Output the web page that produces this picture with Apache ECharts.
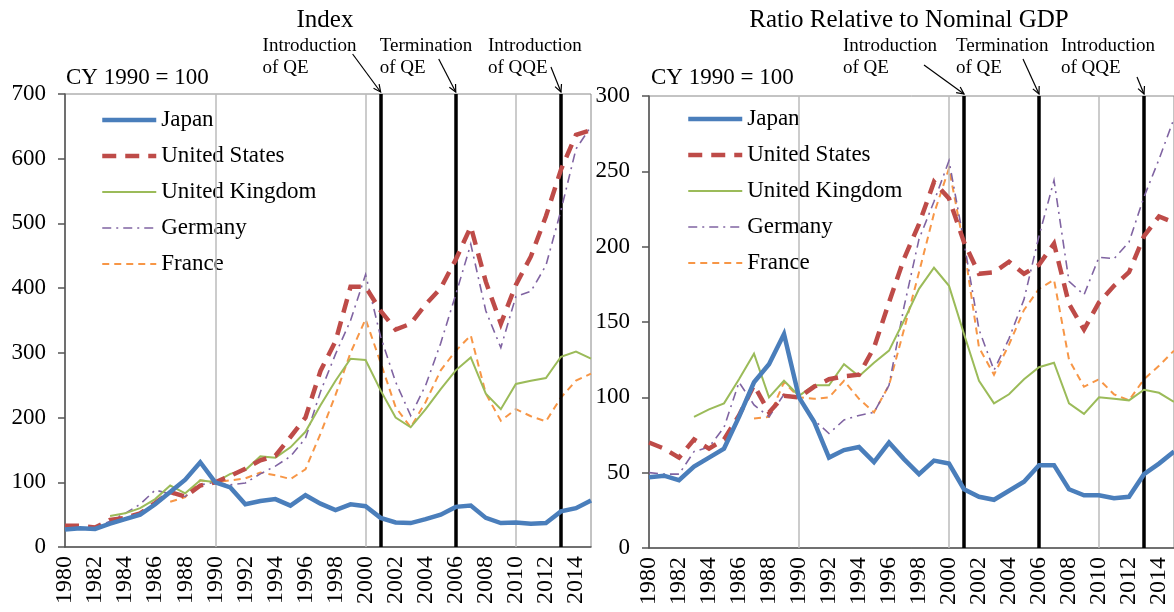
<!DOCTYPE html>
<html>
<head>
<meta charset="utf-8">
<script src="https://cdn.jsdelivr.net/npm/echarts@6/dist/echarts.min.js"></script>
<style>
html,body{margin:0;padding:0;background:#fff;}
#c{width:1174px;height:612px;}
</style>
</head>
<body>
<div id="c"></div>
<script>
// ---------- data ----------
const years = ['1980','1981','1982','1983','1984','1985','1986','1987','1988','1989',
  '1990','1991','1992','1993','1994','1995','1996','1997','1998','1999',
  '2000','2001','2002','2003','2004','2005','2006','2007','2008','2009',
  '2010','2011','2012','2013','2014','2015'];
const seriesNames = ['Japan','United States','United Kingdom','Germany','France'];

// Index (CY 1990 = 100)
const japanIdx   = [27,29,28,36,43,50,66,85,104,131,100,92,66,71,74,64,80,67,57,66,63,45,38,37,43,50,62,64,45,37,38,36,37,55,60,72];
const usIdx      = [33,33,30,42,45,52,68,85,78,95,100,110,121,134,141,170,200,272,318,402,402,365,336,345,375,400,444,495,410,345,405,449,511,583,637,644];
const ukIdx      = [null,null,null,48,52,60,74,95,83,103,100,113,119,140,138,154,178,219,257,291,289,242,200,185,213,244,273,293,237,213,252,257,261,294,302,291];
const germanyIdx = [29,28,30,40,52,66,88,82,78,96,100,96,99,113,125,140,168,240,298,350,421,325,255,203,250,315,390,468,365,308,387,395,435,520,615,650];
const franceIdx  = [null,null,null,null,null,null,null,70,77,103,100,103,106,115,111,105,120,175,235,300,352,285,216,185,224,273,303,327,237,195,213,202,194,231,257,268];

// Ratio relative to nominal GDP
const japanGdp   = [47,48,45,54,60,66,87,110,122,142,100,84,60,65,67,57,70,59,49,58,56,39,34,32,38,44,55,55,39,35,35,33,34,49,56,64];
const usGdp      = [70,66,60,72,66,72,88,108,90,101,100,107,112,114,115,133,163,192,215,243,232,203,182,183,190,182,188,202,162,145,163,174,183,207,220,216];
const ukGdp      = [null,null,null,87,92,96,112,129,100,111,101,108,108,122,114,123,131,151,172,186,174,142,111,96,102,112,120,123,96,89,100,99,98,105,103,97];
const germanyGdp = [50,49,49,64,67,80,110,95,87,102,100,85,76,85,88,90,108,160,205,230,257,203,145,118,139,165,207,244,177,168,193,192,203,233,258,285];
const franceGdp  = [null,null,null,null,null,null,null,86,87,110,100,99,100,111,99,90,108,145,183,222,252,200,133,115,135,158,172,178,125,107,112,102,98,112,121,131];

const decadeYears = ['1990','2000','2010'];
const policyYears = ['2001','2006','2013'];
const policyLabels = ['Introduction\nof QE','Termination\nof QE','Introduction\nof QQE'];
const panelTitles = ['Index','Ratio Relative to Nominal GDP'];
const baseNote = 'CY 1990 = 100';
const yTicksIdx = {min:0, max:700, interval:100};
const yTicksGdp = {min:0, max:300, interval:50};

// ---------- styles ----------
const FONT = 'Liberation Serif';
const styles = [
  {color:'#4A7EBB', width:4.5, type:'solid'},
  {color:'#BE4B48', width:4.5, type:[14,9]},
  {color:'#9BBB59', width:2, type:'solid'},
  {color:'#8064A2', width:1.6, type:[9,5,2,5]},
  {color:'#F79646', width:2, type:[7,5]}
];

const chart = echarts.init(document.getElementById('c'), null, {renderer:'canvas'});

function xAxisFor(gi){
  return {
    type:'category', gridIndex:gi, data:years, boundaryGap:false,
    axisLine:{show:true, lineStyle:{color:'#555', width:1.5}},
    axisTick:{show:false},
    axisLabel:{interval:1, rotate:90, fontFamily:FONT, fontSize:24, color:'#000', margin:9},
    splitLine:{show:false}
  };
}
function yAxisFor(gi, t){
  return {
    type:'value', gridIndex:gi, min:t.min, max:t.max, interval:t.interval,
    axisLine:{show:true, lineStyle:{color:'#555', width:1.5}},
    axisTick:{show:true, length:7, lineStyle:{color:'#555', width:1.5}},
    axisLabel:{fontFamily:FONT, fontSize:23, color:'#000', margin:19},
    splitLine:{show:false}
  };
}

const panelData = [
  [japanIdx, usIdx, ukIdx, germanyIdx, franceIdx],
  [japanGdp, usGdp, ukGdp, germanyGdp, franceGdp]
];

const series = [];
panelData.forEach((arrs, gi) => {
  series.push({
    type:'line', xAxisIndex:gi, yAxisIndex:gi, data:[], silent:true,
    markLine:{
      silent:true, symbol:['none','none'], label:{show:false}, animation:false,
      data: decadeYears.map(y => ({xAxis:y, lineStyle:{color:'#BBBBBB', width:1.5, type:'solid'}}))
        .concat(policyYears.map(y => ({xAxis:y, lineStyle:{color:'#000', width:3.5, type:'solid'}})))
    }
  });
  arrs.forEach((d, si) => {
    series.push({
      name:seriesNames[si], type:'line', xAxisIndex:gi, yAxisIndex:gi,
      data:d, symbol:'none', showSymbol:false, smooth:false, animation:false,
      lineStyle:{color:styles[si].color, width:styles[si].width, type:styles[si].type, cap:'butt', join:'miter'},
      itemStyle:{color:styles[si].color},
      z: 3 + (5 - si)
    });
  });
});

function legendFor(left, top){
  return {
    orient:'vertical', left:left, top:top, padding:0,
    itemWidth:54, itemHeight:14, itemGap:12,
    data:seriesNames.map((n, si) => ({
      name:n,
      lineStyle:{width:styles[si].width, type:styles[si].type, color:styles[si].color},
      itemStyle:{opacity:0, color:'rgba(0,0,0,0)', borderWidth:0}
    })),
    itemStyle:{opacity:0},
    textStyle:{fontFamily:FONT, fontSize:23, color:'#000', lineHeight:24},
    selectedMode:false
  };
}

chart.setOption({
  backgroundColor:'#fff',
  animation:false,
  grid:[
    {left:65, top:94, width:526, height:453, show:true, borderColor:'#888', borderWidth:1},
    {left:649, top:96, width:525, height:452, show:true, borderColor:'#888', borderWidth:1}
  ],
  xAxis:[xAxisFor(0), xAxisFor(1)],
  yAxis:[yAxisFor(0, yTicksIdx), yAxisFor(1, yTicksGdp)],
  legend:[legendFor(100,108), legendFor(686,107)],
  series:series
});

// ---------- annotations ----------
const annoLayout = [
  {titleX:325, noteX:66, text:[{dx:-118},{dx:-76},{dx:-73}], arrow:[[-28,-38],[-17,-33],[-10,-25]]},
  {titleX:909, noteX:651, text:[{dx:-121},{dx:-83},{dx:-83}], arrow:[[-40,-29],[-16,-35],[-7,-17]]}
];
const graphics = [];
annoLayout.forEach((L, gi) => {
  graphics.push({type:'text', x:L.titleX, y:20,
    style:{text:panelTitles[gi], font:'25px "'+FONT+'"', fill:'#000', align:'center', verticalAlign:'middle'}});
  graphics.push({type:'text', x:L.noteX, y:78,
    style:{text:baseNote, font:'23px "'+FONT+'"', fill:'#000', align:'left', verticalAlign:'middle'}});
  policyYears.forEach((py, k) => {
    const tip = chart.convertToPixel({gridIndex:gi}, [py, gi===0?yTicksIdx.max:yTicksGdp.max]);
    const tx = tip[0], ty = tip[1] - 2;
    graphics.push({type:'text', x:tx + L.text[k].dx, y:35,
      style:{text:policyLabels[k], font:'19px "'+FONT+'"', lineHeight:22, fill:'#000', align:'left', verticalAlign:'top'}});
    const sx = tx + L.arrow[k][0], sy = ty + L.arrow[k][1];
    graphics.push({type:'line', shape:{x1:sx, y1:sy, x2:tx, y2:ty}, style:{stroke:'#000', lineWidth:1.2}});
    const ang = Math.atan2(ty - sy, tx - sx);
    const hl = 8, ha = 0.45;
    graphics.push({type:'polyline', shape:{points:[
      [tx - hl*Math.cos(ang - ha), ty - hl*Math.sin(ang - ha)], [tx, ty],
      [tx - hl*Math.cos(ang + ha), ty - hl*Math.sin(ang + ha)]]},
      style:{stroke:'#000', lineWidth:1.2, fill:null}});
  });
});
chart.setOption({graphic:graphics});
</script>
</body>
</html>
